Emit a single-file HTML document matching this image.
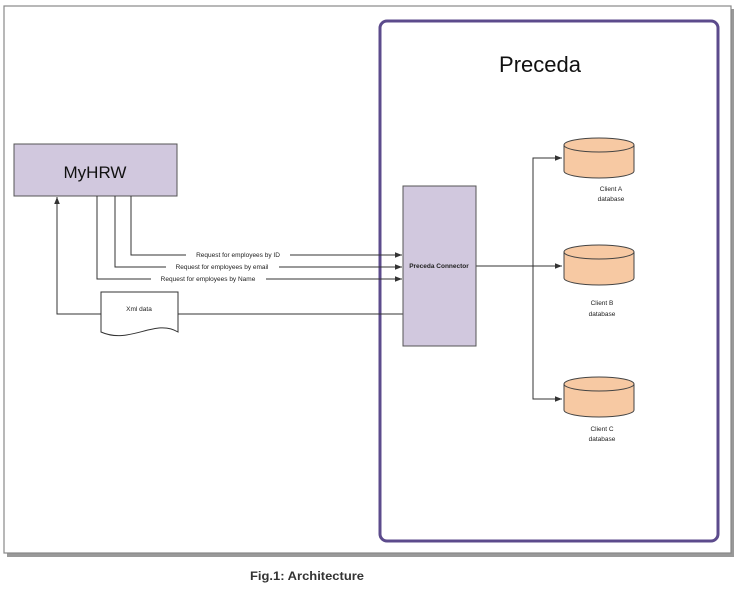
<!DOCTYPE html>
<html><head><meta charset="utf-8"><style>
body{margin:0;background:#fff;width:736px;height:588px;overflow:hidden;font-family:"Liberation Sans",sans-serif}
</style></head><body>
<svg width="736" height="588" viewBox="0 0 736 588" xmlns="http://www.w3.org/2000/svg" font-family="Liberation Sans, sans-serif">
<defs>
<marker id="a" viewBox="0 0 10 10" refX="10" refY="5" markerWidth="7" markerHeight="7" orient="auto"><path d="M0,1 L10,5 L0,9z" fill="#333"/></marker>
</defs>
<rect x="7" y="9" width="727" height="548" fill="#999"/>
<rect x="4" y="6" width="727" height="547" fill="#fff" stroke="#888" stroke-width="1.2"/>
<rect x="380" y="21" width="338" height="520" rx="7" fill="#fff" stroke="#5c4b8c" stroke-width="3"/>
<text x="540" y="72" font-size="22" text-anchor="middle" fill="#111">Preceda</text>
<rect x="14" y="144" width="163" height="52" fill="#d1c8de" stroke="#555" stroke-width="1"/>
<text x="95" y="178" font-size="17" text-anchor="middle" fill="#111">MyHRW</text>
<g stroke="#333" stroke-width="1" fill="none">
<path d="M131,196 V255 H402" marker-end="url(#a)"/>
<path d="M115,196 V267 H402" marker-end="url(#a)"/>
<path d="M97,196 V279 H402" marker-end="url(#a)"/>
<path d="M403,314 H178"/>
<path d="M101,314 H57 V197" marker-end="url(#a)"/>
<path d="M476,266 H562" marker-end="url(#a)"/>
<path d="M533,266 V158 H562" marker-end="url(#a)"/>
<path d="M533,266 V399 H562" marker-end="url(#a)"/>
</g>
<g font-size="6.5" fill="#222" text-anchor="middle">
<rect x="186" y="251" width="104" height="7" fill="#fff"/><text x="238" y="257">Request for employees by ID</text>
<rect x="166" y="263" width="113" height="7" fill="#fff"/><text x="222" y="269">Request for employees by email</text>
<rect x="151" y="275" width="115" height="7" fill="#fff"/><text x="208" y="281">Request for employees by Name</text>
</g>
<path d="M101,292 H178 V332 C155,318 130,345 101,332 Z" fill="#fff" stroke="#333" stroke-width="1"/>
<text x="139" y="311" font-size="6.5" text-anchor="middle" fill="#222">Xml data</text>
<rect x="403" y="186" width="73" height="160" fill="#d1c8de" stroke="#555" stroke-width="1"/>
<text x="439" y="268" font-size="6.5" text-anchor="middle" fill="#222" font-weight="bold">Preceda Connector</text>
<g fill="#f7c9a3" stroke="#444" stroke-width="1">
<path d="M564,145 V171 A35,7 0 0 0 634,171 V145"/><ellipse cx="599" cy="145" rx="35" ry="7"/>
<path d="M564,252 V278 A35,7 0 0 0 634,278 V252"/><ellipse cx="599" cy="252" rx="35" ry="7"/>
<path d="M564,384 V410 A35,7 0 0 0 634,410 V384"/><ellipse cx="599" cy="384" rx="35" ry="7"/>
</g>
<g font-size="6.5" fill="#222" text-anchor="middle">
<text x="611" y="191">Client A</text><text x="611" y="201">database</text>
<text x="602" y="305">Client B</text><text x="602" y="316">database</text>
<text x="602" y="431">Client C</text><text x="602" y="441">database</text>
</g>
<text x="307" y="580" font-size="12" font-weight="bold" text-anchor="middle" fill="#333" textLength="114" lengthAdjust="spacingAndGlyphs">Fig.1: Architecture</text>
</svg>
</body></html>
